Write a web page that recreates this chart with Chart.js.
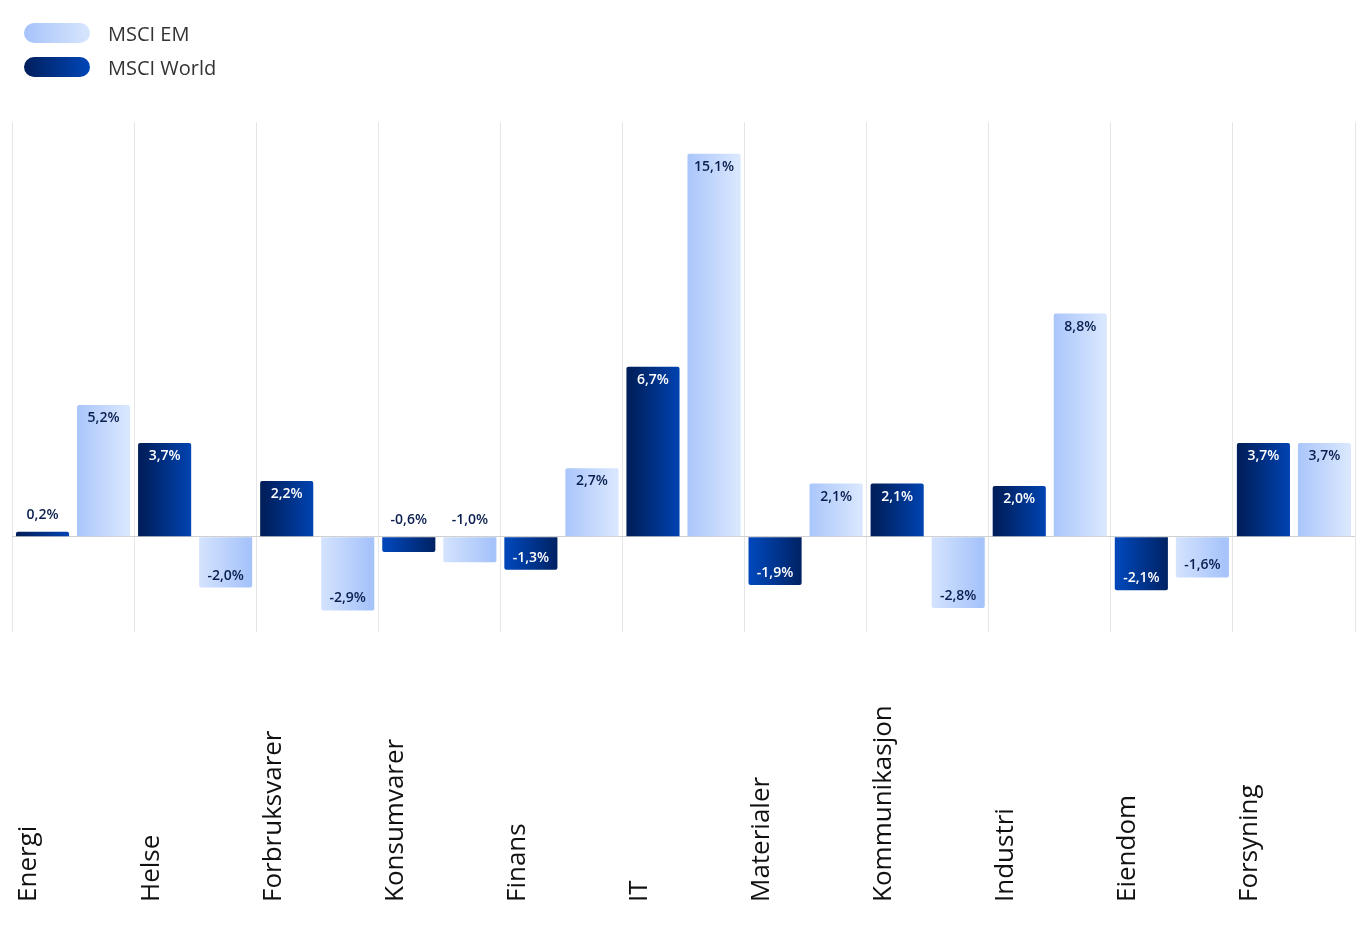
<!DOCTYPE html>
<html>
<head>
<meta charset="utf-8">
<script src="https://cdn.jsdelivr.net/npm/chart.js@4"></script>
<style>
  body { margin: 0; background: #fff; font-family: "Open Sans", sans-serif; }
  #wrap { position: relative; width: 1371px; height: 938px; }
  .legend { position: absolute; left: 24px; top: 16px; }
  .item { display: flex; align-items: center; height: 34px; color: #333; font-size: 20px; }
  .pill { width: 66px; height: 20px; border-radius: 10px; margin-right: 18px; }
</style>
</head>
<body>
<div id="wrap">
  <canvas id="chart" width="1371" height="938"></canvas>
  <div class="legend">
    <div class="item"><span class="pill" style="background:linear-gradient(90deg,#a6c3fa,#d8e6fe)"></span>MSCI EM</div>
    <div class="item"><span class="pill" style="background:linear-gradient(90deg,#001f5c,#0046b8)"></span>MSCI World</div>
  </div>
</div>
<script>
// Data
const categories = ["Energi", "Helse", "Forbruksvarer", "Konsumvarer", "Finans", "IT",
  "Materialer", "Kommunikasjon", "Industri", "Eiendom", "Forsyning"];
const msciWorld = [0.2, 3.7, 2.2, -0.6, -1.3, 6.7, -1.9, 2.1, 2.0, -2.1, 3.7];
const msciEM = [5.2, -2.0, -2.9, -1.0, 2.7, 15.1, 2.1, -2.8, 8.8, -1.6, 3.7];

const BAR_PCT = 0.87;

// gradient per bar, flipped for negative values
function barGradient(ctx, c1, c2, side) {
  const chart = ctx.chart;
  const x = chart.scales && chart.scales.x;
  if (!x || ctx.dataIndex === undefined) return c1;
  const catW = x.width / categories.length;
  const w = catW * BAR_PCT / 2;
  const center = x.getPixelForValue(ctx.dataIndex) + side * w / 2;
  if (!isFinite(center) || !isFinite(w) || w <= 0) return c1;
  const g = chart.ctx.createLinearGradient(center - w / 2, 0, center + w / 2, 0);
  const v = ctx.raw;
  if (v >= 0) { g.addColorStop(0, c1); g.addColorStop(1, c2); }
  else { g.addColorStop(0, c2); g.addColorStop(1, c1); }
  return g;
}

const fmt = v => v.toFixed(1).replace(".", ",") + "%";

// value labels inside bars + rotated category labels
const labelsPlugin = {
  id: "labels",
  afterDatasetsDraw(chart) {
    const c = chart.ctx;
    c.save();
    c.font = "600 14px 'Open Sans'";
    c.textAlign = "center";
    chart.data.datasets.forEach((ds, di) => {
      const meta = chart.getDatasetMeta(di);
      meta.data.forEach((el, i) => {
        const v = ds.data[i];
        const h = Math.abs(el.base - el.y);
        c.fillStyle = di === 0 ? "#ffffff" : "#0a1f4f";
        let y;
        if (h < 25) {
          c.fillStyle = "#0a1f4f";
          c.textBaseline = "bottom";
          y = Math.min(el.y, el.base) - 10;
        } else if (v >= 0) {
          c.textBaseline = "top"; y = el.y + 6;
        } else {
          c.textBaseline = "bottom"; y = el.y - 5;
        }
        c.fillText(fmt(v), el.x, y);
      });
    });
    const x = chart.scales.x;
    c.font = "26px 'Open Sans'";
    c.fillStyle = "#111";
    c.textAlign = "left";
    c.textBaseline = "middle";
    categories.forEach((name, i) => {
      c.save();
      c.translate(x.getPixelForValue(i) - 44, 902);
      c.rotate(-Math.PI / 2);
      c.fillText(name, 0, 0);
      c.restore();
    });
    c.restore();
  }
};

new Chart(document.getElementById("chart"), {
  type: "bar",
  data: {
    labels: categories,
    datasets: [
      {
        label: "MSCI World",
        data: msciWorld,
        backgroundColor: ctx => barGradient(ctx, "#001f5c", "#0046b8", -1),
      },
      {
        label: "MSCI EM",
        data: msciEM,
        backgroundColor: ctx => barGradient(ctx, "#a6c3fa", "#d8e6fe", 1),
      },
    ],
  },
  options: {
    responsive: false,
    animation: false,
    borderRadius: 2,
    borderSkipped: "start",
    barPercentage: BAR_PCT,
    categoryPercentage: 1,
    layout: { padding: { top: 122, left: 12, right: 16, bottom: 306 } },
    plugins: { legend: { display: false }, tooltip: { enabled: false } },
    scales: {
      x: {
        ticks: { display: false },
        grid: { color: "#e6e6e6", offset: true, drawTicks: false },
        border: { display: false },
      },
      y: {
        display: true,
        min: -3.75,
        max: 16.35,
        ticks: { display: false, stepSize: 100 },
        grid: { color: ctx => ctx.tick.value === 0 ? "#d0d0d0" : "transparent", drawTicks: false },
        border: { display: false },
        afterFit(scale) { scale.width = 0; },
      },
    },
  },
  plugins: [labelsPlugin],
});
</script>
</body>
</html>
